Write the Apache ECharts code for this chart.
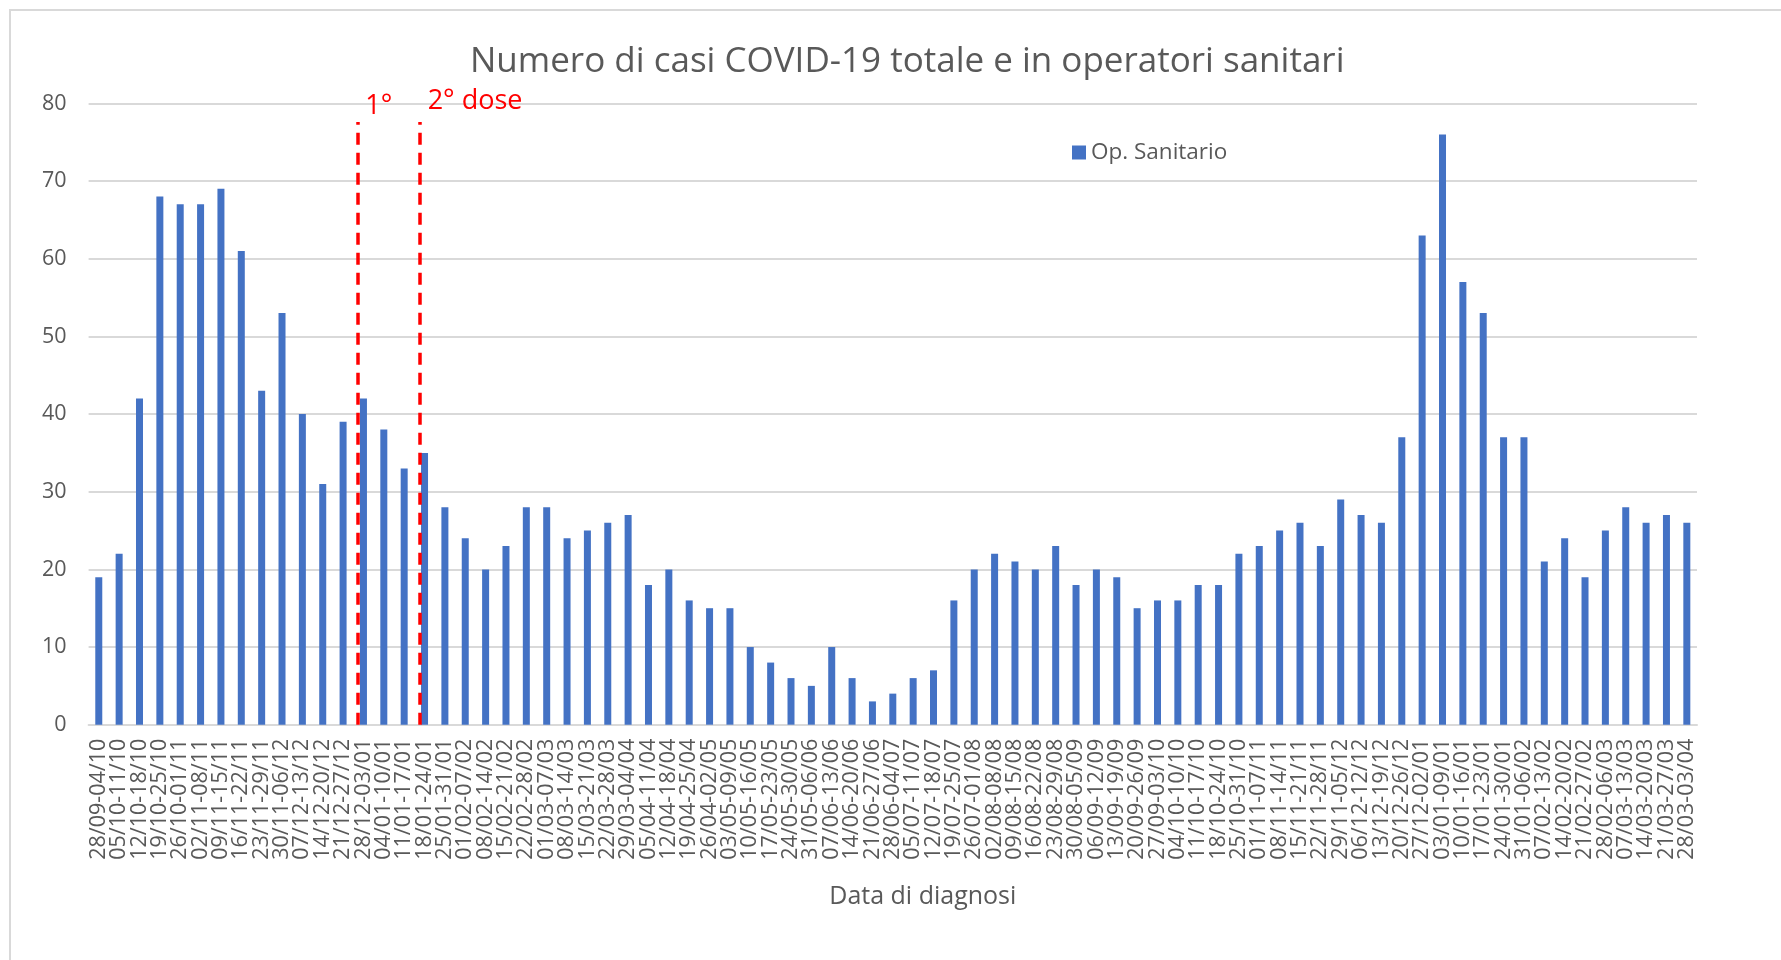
<!DOCTYPE html>
<html>
<head>
<meta charset="utf-8">
<script src="https://cdn.jsdelivr.net/npm/echarts@6/dist/echarts.min.js"></script>
<style>
html,body{margin:0;padding:0;background:#fff;}
#chart{width:1781px;height:960px;}
</style>
</head>
<body>
<div id="chart"></div>
<script>
const categories = [
 '28/09-04/10','05/10-11/10','12/10-18/10','19/10-25/10','26/10-01/11','02/11-08/11','09/11-15/11','16/11-22/11','23/11-29/11','30/11-06/12',
 '07/12-13/12','14/12-20/12','21/12-27/12','28/12-03/01','04/01-10/01','11/01-17/01','18/01-24/01','25/01-31/01','01/02-07/02','08/02-14/02',
 '15/02-21/02','22/02-28/02','01/03-07/03','08/03-14/03','15/03-21/03','22/03-28/03','29/03-04/04','05/04-11/04','12/04-18/04','19/04-25/04',
 '26/04-02/05','03/05-09/05','10/05-16/05','17/05-23/05','24/05-30/05','31/05-06/06','07/06-13/06','14/06-20/06','21/06-27/06','28/06-04/07',
 '05/07-11/07','12/07-18/07','19/07-25/07','26/07-01/08','02/08-08/08','09/08-15/08','16/08-22/08','23/08-29/08','30/08-05/09','06/09-12/09',
 '13/09-19/09','20/09-26/09','27/09-03/10','04/10-10/10','11/10-17/10','18/10-24/10','25/10-31/10','01/11-07/11','08/11-14/11','15/11-21/11',
 '22/11-28/11','29/11-05/12','06/12-12/12','13/12-19/12','20/12-26/12','27/12-02/01','03/01-09/01','10/01-16/01','17/01-23/01','24/01-30/01',
 '31/01-06/02','07/02-13/02','14/02-20/02','21/02-27/02','28/02-06/03','07/03-13/03','14/03-20/03','21/03-27/03','28/03-03/04'
];
const opSanitario = [
 19,22,42,68,67,67,69,61,43,53,
 40,31,39,42,38,33,35,28,24,20,
 23,28,28,24,25,26,27,18,20,16,
 15,15,10,8,6,5,10,6,3,4,
 6,7,16,20,22,21,20,23,18,20,
 19,15,16,16,18,18,22,23,25,26,
 23,29,27,26,37,63,76,57,53,37,
 37,21,24,19,25,28,26,27,26
];
const seriesName = 'Op. Sanitario';
const titleText = 'Numero di casi COVID-19 totale e in operatori sanitari';
const xAxisName = 'Data di diagnosi';
const yMin = 0, yMax = 80, yInterval = 10;
// vaccination dose markers: position in category units, top value
const doseLabels = ['1°', '2° dose'];
const dosePositions = [12.72, 15.78];
const doseTops = [77.6, 77.6];

const FONT = 'Open Sans';
const GRAY = '#595959';
const chart = echarts.init(document.getElementById('chart'), null, {renderer:'canvas'});

const doseLabelOffsets = [[21, 0], [55, -5]];
const markData = dosePositions.map((p, i) => [
  {coord: [p, 0], name: doseLabels[i]},
  {coord: [p, doseTops[i]], label: {offset: doseLabelOffsets[i]}}
]);

chart.setOption({
  animation: false,
  backgroundColor: '#fff',
  textStyle: {fontFamily: FONT},
  title: {
    text: titleText, left: 470, top: 45, padding: 0,
    textStyle: {fontFamily: FONT, fontSize: 35, fontWeight: 'normal', color: GRAY}
  },
  legend: {
    data: [seriesName], left: 1067, top: 136, icon: 'rect', itemWidth: 14, itemHeight: 14, itemGap: 6,
    textStyle: {fontFamily: FONT, fontSize: 22.5, color: GRAY}
  },
  graphic: [{
    type: 'rect', shape: {x: 10, y: 10, width: 1800, height: 1000},
    style: {fill: 'none', stroke: '#d9d9d9', lineWidth: 2}, silent: true
  }],
  grid: {left: 88.6, right: 84, top: 103.4, bottom: 235.3},
  xAxis: [{
    type: 'category', data: categories,
    name: xAxisName, nameLocation: 'middle', nameGap: 160,
    nameTextStyle: {fontFamily: FONT, fontSize: 25, color: GRAY, padding: [0, 0, 0, 60]},
    axisLine: {lineStyle: {color: '#d9d9d9', width: 2}},
    axisTick: {show: false},
    axisLabel: {interval: 0, rotate: 90, fontFamily: FONT, fontSize: 21.5, color: GRAY, margin: 14}
  }, {
    type: 'value', min: -0.5, max: categories.length - 0.5, show: false
  }],
  yAxis: {
    type: 'value', min: yMin, max: yMax, interval: yInterval,
    axisLine: {show: false}, axisTick: {show: false},
    axisLabel: {fontFamily: FONT, fontSize: 21.5, color: GRAY, margin: 22},
    splitLine: {lineStyle: {color: '#d9d9d9', width: 2}}
  },
  series: [{
    name: seriesName, type: 'bar', data: opSanitario, barWidth: 7,
    itemStyle: {color: '#4472C4'}
  }, {
    name: 'dosi', type: 'line', xAxisIndex: 1, yAxisIndex: 0, data: [],
    markLine: {
      silent: true, symbol: ['none', 'none'],
      lineStyle: {color: '#FF0000', width: 3.5, type: [12, 8]},
      label: {show: true, position: 'end', formatter: '{b}', color: '#FF0000', fontFamily: FONT, fontSize: 27, distance: 2},
      data: markData
    }
  }]
});
</script>
</body>
</html>
